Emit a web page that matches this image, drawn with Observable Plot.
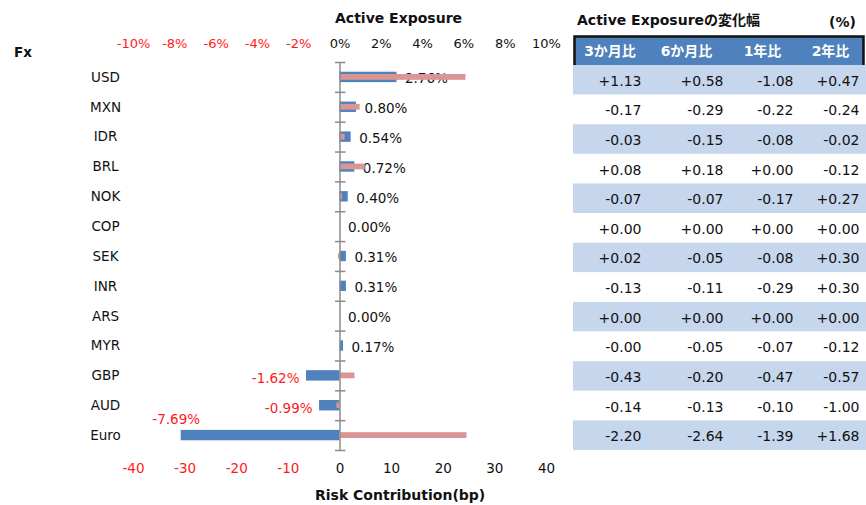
<!DOCTYPE html>
<html>
<head>
<meta charset="utf-8">
<script src="https://cdn.jsdelivr.net/npm/d3@7"></script>
<script src="https://cdn.jsdelivr.net/npm/@observablehq/plot@0.6"></script>
<style>
  body { margin: 0; background: #fff; }
  #wrap { position: relative; width: 866px; height: 505px; overflow: hidden; font-family: "DejaVu Sans", "Noto Sans CJK JP", sans-serif; }
  #wrap > svg, #wrap > div.lbl { position: absolute; }
  .lbl { font-weight: bold; color: #111; white-space: nowrap; }
</style>
</head>
<body>
<div id="wrap"></div>
<script>
// ---- data ----
const currencies = ["USD","MXN","IDR","BRL","NOK","COP","SEK","INR","ARS","MYR","GBP","AUD","Euro"];
const activeExposure = [2.76, 0.80, 0.54, 0.72, 0.40, 0.00, 0.31, 0.31, 0.00, 0.17, -1.62, -0.99, -7.69]; // %
const riskContribution = [24.4, 3.9, 1.0, 4.9, 0.5, 0.0, -0.3, 0.0, 0.0, 0.0, 2.9, -0.6, 24.6]; // bp
const exposureTicks = [-10, -8, -6, -4, -2, 0, 2, 4, 6, 8, 10];
const riskTicks = [-40, -30, -20, -10, 0, 10, 20, 30, 40];
const changeColumns = ["3か月比", "6か月比", "1年比", "2年比"];
const change3m = [1.13, -0.17, -0.03, 0.08, -0.07, 0.00, 0.02, -0.13, 0.00, -0, -0.43, -0.14, -2.20];
const change6m = [0.58, -0.29, -0.15, 0.18, -0.07, 0.00, -0.05, -0.11, 0.00, -0.05, -0.20, -0.13, -2.64];
const change1y = [-1.08, -0.22, -0.08, 0.00, -0.17, 0.00, -0.08, -0.29, 0.00, -0.07, -0.47, -0.10, -1.39];
const change2y = [0.47, -0.24, -0.02, -0.12, 0.27, 0.00, 0.30, 0.30, 0.00, -0.12, -0.57, -1.00, 1.68];

// ---- styles ----
const BLUE = "#4f81bd", PINK = "#d99694", RED = "#ff1a1a", INK = "#111111", ROWBLUE = "#c6d6ec";
const FONT = "DejaVu Sans, Noto Sans CJK JP, sans-serif";
const W = 570, H = 505, MT = 62, MB = 55, ML = 133, MR = 24;
const step = (H - MT - MB) / currencies.length;

const rows = currencies.map((c, i) => ({c, i, ae: activeExposure[i], rc: riskContribution[i]}));
const yScale = () => ({domain: currencies, padding: 0, round: false, axis: null});
const blueInset = (step - 10.4) / 2, pinkInset = (step - 5.8) / 2;
const wrap = document.getElementById("wrap");

// Active exposure plot (blue bars, top axis)
const plotA = Plot.plot({
  width: W, height: H, marginTop: MT, marginBottom: MB, marginLeft: ML, marginRight: MR,
  style: {fontFamily: FONT, background: "transparent"},
  x: {domain: [-10, 10], axis: null},
  y: yScale(),
  marks: [
    Plot.text(exposureTicks, {x: d => d, frameAnchor: "top", lineAnchor: "middle", dy: -19, text: d => d + "%",
      fill: d => d < 0 ? RED : INK, fontSize: 13}),
    Plot.barX(rows, {x: "ae", y: "c", fill: BLUE, insetTop: blueInset, insetBottom: blueInset}),
    Plot.text(rows, {y: "c", frameAnchor: "left", dx: -28, text: "c", textAnchor: "middle", fontSize: 13.5, fill: INK, dy: 0}),
    Plot.text(rows.filter(d => d.ae >= 0), {x: "ae", y: "c", text: d => d.ae.toFixed(2) + "%",
      textAnchor: "start", dx: 8, dy: 1.5, fontSize: 13.5, fill: INK}),
    Plot.text(rows.filter(d => d.ae < 0 && d.c !== "Euro"), {x: "ae", y: "c", text: d => d.ae.toFixed(2) + "%",
      textAnchor: "end", dx: -7, dy: 3, fontSize: 13.5, fill: RED}),
    Plot.text(rows.filter(d => d.c === "Euro"), {x: "ae", y: "c", text: d => d.ae.toFixed(2) + "%",
      textAnchor: "middle", dx: -5, dy: -16, fontSize: 13.5, fill: RED})
  ]
});
plotA.style.left = "0px"; plotA.style.top = "0px";
wrap.appendChild(plotA);

// Risk contribution plot (pink bars, bottom axis, zero line)
const plotB = Plot.plot({
  width: W, height: H, marginTop: MT, marginBottom: MB, marginLeft: ML, marginRight: MR,
  style: {fontFamily: FONT, background: "transparent"},
  x: {domain: [-40, 40], axis: null},
  y: yScale(),
  marks: [
    Plot.text(riskTicks, {x: d => d, frameAnchor: "bottom", lineAnchor: "middle", dy: 18, text: d => String(d),
      fill: d => d < 0 ? RED : INK, fontSize: 13.5}),
    Plot.barX(rows, {x: "rc", y: "c", fill: PINK, insetTop: pinkInset, insetBottom: pinkInset}),
    Plot.ruleX([0], {stroke: "#8c8c8c", strokeWidth: 1.5}),
    Plot.ruleY(currencies, {y: d => d, x1: 0, x2: 0, insetLeft: -4.5, insetRight: -6, dy: -step / 2, stroke: "#8c8c8c", strokeWidth: 1.5}),
    Plot.ruleY(currencies.slice(-1), {y: d => d, x1: 0, x2: 0, insetLeft: -4.5, insetRight: -6, dy: step / 2, stroke: "#8c8c8c", strokeWidth: 1.5})
  ]
});
plotB.style.left = "0px"; plotB.style.top = "0px";
wrap.appendChild(plotB);

// Table: column index -> cumulative column edge (unequal column widths) via a scale transform
const TW = 296;
const colEdge = d3.scaleLinear([0, 1, 2, 3, 4], [0, 71, 153, 223, 289]);
const colScale = () => ({domain: [0, 289], range: [4, 293], transform: j => colEdge(j), axis: null});
const colIdx = changeColumns.map((c, j) => ({c, j}));
const headerPlot = Plot.plot({
  width: TW, height: 33, marginTop: 2, marginBottom: 1, marginLeft: 4, marginRight: 3,
  style: {fontFamily: FONT, background: "transparent"},
  x: colScale(),
  y: {domain: [0, 1], axis: null},
  marks: [
    Plot.frame({fill: BLUE}),
    Plot.frame({stroke: "#111", strokeWidth: 2.5}),
    Plot.text(colIdx, {x: d => d.j + 0.5, frameAnchor: "middle", text: "c", fill: "#fff", fontWeight: "bold", fontSize: 14})
  ]
});
headerPlot.style.left = "570px"; headerPlot.style.top = "34px";
wrap.appendChild(headerPlot);

const fmt = v => ((v > 0 || Object.is(v, 0)) ? "+" : "-") + Math.abs(v).toFixed(2);
const series = [change3m, change6m, change1y, change2y];
const cells = [];
series.forEach((arr, j) => arr.forEach((v, i) => cells.push({j, row: currencies[i], v})));
const bodyPlot = Plot.plot({
  width: TW, height: H, marginTop: 65, marginBottom: MB, marginLeft: 3, marginRight: 0,
  style: {fontFamily: FONT, background: "transparent"},
  x: colScale(),
  y: {domain: currencies, padding: 0, round: false, axis: null},
  marks: [
    Plot.cell(currencies, {y: d => d, fill: (d, i) => i % 2 === 0 ? ROWBLUE : "#ffffff"}),
    Plot.text(cells, {x: d => d.j + 1, y: "row", text: d => fmt(d.v), textAnchor: "end", dx: -4, dy: 1, fontSize: 14, fill: INK})
  ]
});
bodyPlot.style.left = "570px"; bodyPlot.style.top = "0px";
wrap.appendChild(bodyPlot);

// Titles
function label(txt, css) {
  const d = document.createElement("div");
  d.className = "lbl"; d.textContent = txt;
  Object.assign(d.style, css);
  wrap.appendChild(d);
}
label("Active Exposure", {left: "335px", top: "10px", fontSize: "14px"});
label("Fx", {left: "14px", top: "44px", fontSize: "13.5px"});
label("Risk Contribution(bp)", {left: "315px", top: "487px", fontSize: "14px"});
label("Active Exposureの変化幅", {left: "577px", top: "9px", fontSize: "14px"});
label("(%)", {left: "829px", top: "14px", fontSize: "14px"});
</script>
</body>
</html>
